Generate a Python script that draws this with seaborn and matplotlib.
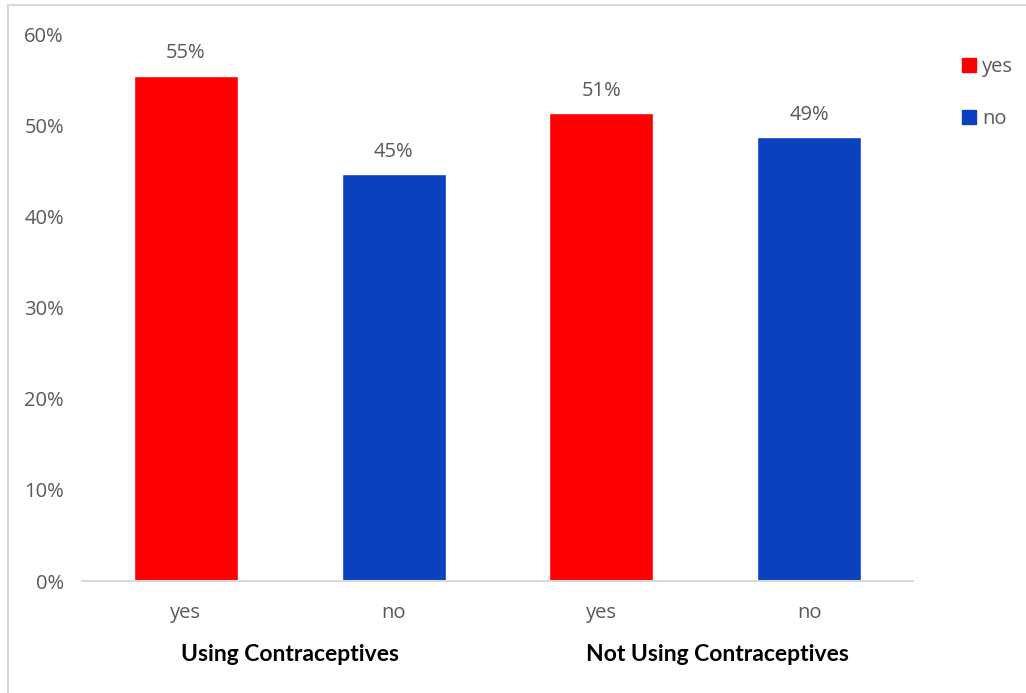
import pandas as pd
import matplotlib.pyplot as plt
import seaborn as sns
from matplotlib.lines import Line2D
from matplotlib.patches import Patch

# data
groups = ["Using Contraceptives", "Using Contraceptives",
          "Not Using Contraceptives", "Not Using Contraceptives"]
answers = ["yes", "no", "yes", "no"]
shares = [0.554, 0.446, 0.513, 0.487]
value_labels = ["55%", "45%", "51%", "49%"]
group_names = ["Using Contraceptives", "Not Using Contraceptives"]

df = pd.DataFrame({"group": groups, "answer": answers, "share": shares})
df["pos"] = [f"{g}|{a}" for g, a in zip(groups, answers)]

colors = {"yes": "#FF0000", "no": "#0A41BE"}
grey = "#595959"
fs = 14.5

sns.set_theme(style="white")
plt.rcParams["font.family"] = ["Open Sans", "DejaVu Sans"]

fig = plt.figure(figsize=(10.26, 6.93), dpi=100)
ax = fig.add_axes([0.0799, 0.1616, 0.81, 0.7893])

sns.barplot(data=df, x="pos", y="share", hue="answer", palette=colors,
            dodge=False, width=0.5, ax=ax, legend=False, saturation=1)

ax.set_ylim(0, 0.6)
ax.set_xlim(-0.5, 3.5)
ax.set_yticks([i / 10 for i in range(7)])
ax.set_yticklabels([f"{i * 10}%" for i in range(7)], color=grey, fontsize=fs)
ax.set_xticks(range(4))
ax.set_xticklabels(answers, color=grey, fontsize=fs)
ax.tick_params(axis="both", length=0)
ax.tick_params(axis="x", pad=16)
ax.tick_params(axis="y", pad=13)
ax.set_xlabel("")
ax.set_ylabel("")
for s in ["top", "right", "left"]:
    ax.spines[s].set_visible(False)
ax.spines["bottom"].set_color("#D9D9D9")
ax.spines["bottom"].set_linewidth(1.5)

for i, lab in enumerate(value_labels):
    ax.annotate(lab, (i, shares[i]), xytext=(0, 9), textcoords="offset points",
                ha="center", va="bottom", color=grey, fontsize=fs)

# group labels under the ticks
for x, name in zip([0.5, 2.56], group_names):
    ax.text(x, -0.135, name, ha="center", va="center", fontsize=16.5,
            fontweight="bold", color="black", transform=ax.get_xaxis_transform(),
            family=["Lato", "DejaVu Sans"])

handles = [Patch(color=colors["yes"], label="yes"), Patch(color=colors["no"], label="no")]
fig.legend(handles=handles, loc="upper left", bbox_to_anchor=(0.92, 0.944),
           frameon=False, fontsize=fs, labelcolor=grey, handlelength=0.7,
           handleheight=0.7, handletextpad=0.3, labelspacing=1.6)

# chart border (top and left edges)
fig.add_artist(Line2D([7.5 / 1026, 7.5 / 1026], [0, 1 - 4.5 / 693],
                      transform=fig.transFigure, color="#D9D9D9", lw=1.5))
fig.add_artist(Line2D([7.5 / 1026, 1], [1 - 4.5 / 693, 1 - 4.5 / 693],
                      transform=fig.transFigure, color="#D9D9D9", lw=1.5))

plt.savefig("out.png", dpi=100)
